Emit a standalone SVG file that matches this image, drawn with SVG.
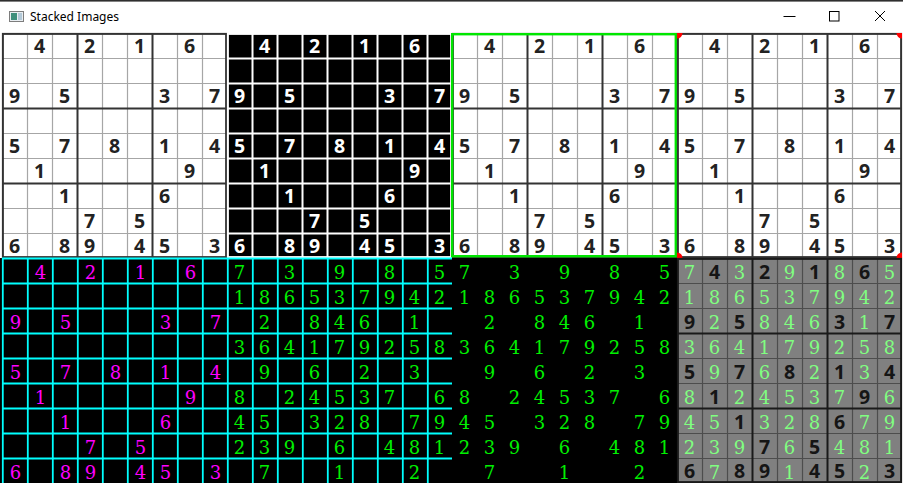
<svg xmlns="http://www.w3.org/2000/svg" width="903" height="483" viewBox="0 0 903 483">
<style>
.b{font-family:"Open Sans","Liberation Sans",sans-serif;font-weight:700;font-size:19.5px;text-anchor:middle}
.s{font-family:"DejaVu Serif","Liberation Serif",serif;font-size:18px;text-anchor:middle}
.k{fill:#222}.w{fill:#fff}.m{fill:#f0f}.g{fill:#00f000}.lg{fill:#80ff80}.d{fill:#151515}
.thin{fill:none;stroke:#a6a6a6;stroke-width:1.2}
.thick{fill:none;stroke:#333;stroke-width:2}
.wl{fill:none;stroke:#fff;stroke-width:2}
.cy{fill:none;stroke:#0ff;stroke-width:1.8}
.thin8{fill:none;stroke:#4d4d4d;stroke-width:1.2}
.thick8{fill:none;stroke:#1a1a1a;stroke-width:2}
.ttl{font-family:"Segoe UI","Noto Sans","Open Sans",sans-serif;font-size:12px;fill:#000}
</style>
<defs>
<path id="thinL" d="M25.5 0V225M50.5 0V225M100.5 0V225M125.5 0V225M175.5 0V225M200.5 0V225M0 25.5H225M0 50.5H225M0 100.5H225M0 125.5H225M0 175.5H225M0 200.5H225"/>
<path id="thickL" d="M75.5 0V225M150.5 0V225M0 75.5H225M0 150.5H225"/>
<path id="cyanL" d="M0.8 0V225M25.8 0V225M50.8 0V225M75.8 0V225M100.8 0V225M125.8 0V225M150.8 0V225M175.8 0V225M200.8 0V225M0 0.5H225M0 25.5H225M0 50.5H225M0 75.5H225M0 100.5H225M0 125.5H225M0 150.5H225M0 175.5H225M0 200.5H225"/>
<clipPath id="clip4"><rect x="0" y="0" width="225" height="225"/></clipPath>
</defs>
<rect width="903" height="483" fill="#fff"/>
<g id="titlebar">
<rect x="0" y="0" width="903" height="1.6" fill="#2f2f2f"/>
<rect x="9.5" y="11.5" width="14" height="10" fill="#e9eef2" stroke="#7d7d7d"/>
<rect x="11" y="13" width="6" height="7" fill="#3f8f7c"/>
<rect x="18" y="13" width="4" height="7" fill="#b3c9d8"/>
<text class="ttl" x="30" y="21">Stacked Images</text>
<path d="M783.5 16.5H795.5" stroke="#000" stroke-width="1" fill="none"/>
<rect x="829.5" y="11.5" width="9.5" height="9.5" stroke="#000" stroke-width="1" fill="none"/>
<path d="M875 11L885 21M885 11L875 21" stroke="#000" stroke-width="1" fill="none"/>
</g>

<g id="panel-original" transform="translate(2,33)">
<rect width="225" height="225" fill="#fff"/>
<use href="#thinL" class="thin"/>
<use href="#thickL" class="thick"/>
<rect x="0.9" y="0.9" width="223.2" height="223.2" class="thick"/>
<g class="b k">
<text x="37.5" y="20">4</text><text x="87.5" y="20">2</text><text x="137.5" y="20">1</text><text x="187.5" y="20">6</text>
<text x="12.5" y="70">9</text><text x="62.5" y="70">5</text><text x="162.5" y="70">3</text><text x="212.5" y="70">7</text>
<text x="12.5" y="120">5</text><text x="62.5" y="120">7</text><text x="112.5" y="120">8</text><text x="162.5" y="120">1</text><text x="212.5" y="120">4</text>
<text x="37.5" y="145">1</text><text x="187.5" y="145">9</text>
<text x="62.5" y="170">1</text><text x="162.5" y="170">6</text>
<text x="87.5" y="195">7</text><text x="137.5" y="195">5</text>
<text x="12.5" y="220">6</text><text x="62.5" y="220">8</text><text x="87.5" y="220">9</text><text x="137.5" y="220">4</text><text x="162.5" y="220">5</text><text x="212.5" y="220">3</text>
</g>
</g>

<g id="panel-threshold" transform="translate(227,33)">
<rect width="225" height="225" fill="#000"/>
<use href="#thinL" class="wl"/>
<use href="#thickL" class="wl"/>
<rect x="0.9" y="0.9" width="223.2" height="223.2" class="wl"/>
<g class="b w">
<text x="37.5" y="20">4</text><text x="87.5" y="20">2</text><text x="137.5" y="20">1</text><text x="187.5" y="20">6</text>
<text x="12.5" y="70">9</text><text x="62.5" y="70">5</text><text x="162.5" y="70">3</text><text x="212.5" y="70">7</text>
<text x="12.5" y="120">5</text><text x="62.5" y="120">7</text><text x="112.5" y="120">8</text><text x="162.5" y="120">1</text><text x="212.5" y="120">4</text>
<text x="37.5" y="145">1</text><text x="187.5" y="145">9</text>
<text x="62.5" y="170">1</text><text x="162.5" y="170">6</text>
<text x="87.5" y="195">7</text><text x="137.5" y="195">5</text>
<text x="12.5" y="220">6</text><text x="62.5" y="220">8</text><text x="87.5" y="220">9</text><text x="137.5" y="220">4</text><text x="162.5" y="220">5</text><text x="212.5" y="220">3</text>
</g>
</g>

<g id="panel-contour" transform="translate(452,33)">
<rect width="225" height="225" fill="#fff"/>
<use href="#thinL" class="thin"/>
<use href="#thickL" class="thick"/>
<rect x="0.9" y="0.9" width="223.2" height="223.2" class="thick"/>
<g class="b k">
<text x="37.5" y="20">4</text><text x="87.5" y="20">2</text><text x="137.5" y="20">1</text><text x="187.5" y="20">6</text>
<text x="12.5" y="70">9</text><text x="62.5" y="70">5</text><text x="162.5" y="70">3</text><text x="212.5" y="70">7</text>
<text x="12.5" y="120">5</text><text x="62.5" y="120">7</text><text x="112.5" y="120">8</text><text x="162.5" y="120">1</text><text x="212.5" y="120">4</text>
<text x="37.5" y="145">1</text><text x="187.5" y="145">9</text>
<text x="62.5" y="170">1</text><text x="162.5" y="170">6</text>
<text x="87.5" y="195">7</text><text x="137.5" y="195">5</text>
<text x="12.5" y="220">6</text><text x="62.5" y="220">8</text><text x="87.5" y="220">9</text><text x="137.5" y="220">4</text><text x="162.5" y="220">5</text><text x="212.5" y="220">3</text>
</g>
<rect x="0.2" y="1.2" width="223.6" height="222" fill="none" stroke="#00e600" stroke-width="2.4"/>
</g>

<g id="panel-warped" transform="translate(677,33)">
<rect width="225" height="225" fill="#fff"/>
<use href="#thinL" class="thin"/>
<use href="#thickL" class="thick"/>
<rect x="0.9" y="0.9" width="223.2" height="223.2" class="thick"/>
<g class="b k">
<text x="37.5" y="20">4</text><text x="87.5" y="20">2</text><text x="137.5" y="20">1</text><text x="187.5" y="20">6</text>
<text x="12.5" y="70">9</text><text x="62.5" y="70">5</text><text x="162.5" y="70">3</text><text x="212.5" y="70">7</text>
<text x="12.5" y="120">5</text><text x="62.5" y="120">7</text><text x="112.5" y="120">8</text><text x="162.5" y="120">1</text><text x="212.5" y="120">4</text>
<text x="37.5" y="145">1</text><text x="187.5" y="145">9</text>
<text x="62.5" y="170">1</text><text x="162.5" y="170">6</text>
<text x="87.5" y="195">7</text><text x="137.5" y="195">5</text>
<text x="12.5" y="220">6</text><text x="62.5" y="220">8</text><text x="87.5" y="220">9</text><text x="137.5" y="220">4</text><text x="162.5" y="220">5</text><text x="212.5" y="220">3</text>
</g>
<g clip-path="url(#clip4)" fill="#f00">
<circle cx="0" cy="0" r="5.5"/><circle cx="225" cy="0" r="5.5"/><circle cx="0" cy="225" r="5.5"/><circle cx="225" cy="225" r="5.5"/>
</g>
</g>

<g id="panel-detected" transform="translate(2,258)">
<rect x="-2" width="227" height="225" fill="#000"/>
<use href="#cyanL" class="cy"/>
<g class="s m">
<text x="38.5" y="21">4</text><text x="88.5" y="21">2</text><text x="138.5" y="21">1</text><text x="188.5" y="21">6</text>
<text x="13.5" y="71">9</text><text x="63.5" y="71">5</text><text x="163.5" y="71">3</text><text x="213.5" y="71">7</text>
<text x="13.5" y="121">5</text><text x="63.5" y="121">7</text><text x="113.5" y="121">8</text><text x="163.5" y="121">1</text><text x="213.5" y="121">4</text>
<text x="38.5" y="146">1</text><text x="188.5" y="146">9</text>
<text x="63.5" y="171">1</text><text x="163.5" y="171">6</text>
<text x="88.5" y="196">7</text><text x="138.5" y="196">5</text>
<text x="13.5" y="221">6</text><text x="63.5" y="221">8</text><text x="88.5" y="221">9</text><text x="138.5" y="221">4</text><text x="163.5" y="221">5</text><text x="213.5" y="221">3</text>
</g>
</g>

<g id="panel-solved-grid" transform="translate(227,258)">
<rect width="225" height="225" fill="#000"/>
<use href="#cyanL" class="cy"/>
<g class="s g">
<text x="12.5" y="21">7</text><text x="62.5" y="21">3</text><text x="112.5" y="21">9</text><text x="162.5" y="21">8</text><text x="212.5" y="21">5</text>
<text x="12.5" y="46">1</text><text x="37.5" y="46">8</text><text x="62.5" y="46">6</text><text x="87.5" y="46">5</text><text x="112.5" y="46">3</text><text x="137.5" y="46">7</text><text x="162.5" y="46">9</text><text x="187.5" y="46">4</text><text x="212.5" y="46">2</text>
<text x="37.5" y="71">2</text><text x="87.5" y="71">8</text><text x="112.5" y="71">4</text><text x="137.5" y="71">6</text><text x="187.5" y="71">1</text>
<text x="12.5" y="96">3</text><text x="37.5" y="96">6</text><text x="62.5" y="96">4</text><text x="87.5" y="96">1</text><text x="112.5" y="96">7</text><text x="137.5" y="96">9</text><text x="162.5" y="96">2</text><text x="187.5" y="96">5</text><text x="212.5" y="96">8</text>
<text x="37.5" y="121">9</text><text x="87.5" y="121">6</text><text x="137.5" y="121">2</text><text x="187.5" y="121">3</text>
<text x="12.5" y="146">8</text><text x="62.5" y="146">2</text><text x="87.5" y="146">4</text><text x="112.5" y="146">5</text><text x="137.5" y="146">3</text><text x="162.5" y="146">7</text><text x="212.5" y="146">6</text>
<text x="12.5" y="171">4</text><text x="37.5" y="171">5</text><text x="87.5" y="171">3</text><text x="112.5" y="171">2</text><text x="137.5" y="171">8</text><text x="187.5" y="171">7</text><text x="212.5" y="171">9</text>
<text x="12.5" y="196">2</text><text x="37.5" y="196">3</text><text x="62.5" y="196">9</text><text x="112.5" y="196">6</text><text x="162.5" y="196">4</text><text x="187.5" y="196">8</text><text x="212.5" y="196">1</text>
<text x="37.5" y="221">7</text><text x="112.5" y="221">1</text><text x="187.5" y="221">2</text>
</g>
</g>

<g id="panel-solution" transform="translate(452,258)">
<rect width="225" height="225" fill="#000"/>
<g class="s g">
<text x="12.5" y="21">7</text><text x="62.5" y="21">3</text><text x="112.5" y="21">9</text><text x="162.5" y="21">8</text><text x="212.5" y="21">5</text>
<text x="12.5" y="46">1</text><text x="37.5" y="46">8</text><text x="62.5" y="46">6</text><text x="87.5" y="46">5</text><text x="112.5" y="46">3</text><text x="137.5" y="46">7</text><text x="162.5" y="46">9</text><text x="187.5" y="46">4</text><text x="212.5" y="46">2</text>
<text x="37.5" y="71">2</text><text x="87.5" y="71">8</text><text x="112.5" y="71">4</text><text x="137.5" y="71">6</text><text x="187.5" y="71">1</text>
<text x="12.5" y="96">3</text><text x="37.5" y="96">6</text><text x="62.5" y="96">4</text><text x="87.5" y="96">1</text><text x="112.5" y="96">7</text><text x="137.5" y="96">9</text><text x="162.5" y="96">2</text><text x="187.5" y="96">5</text><text x="212.5" y="96">8</text>
<text x="37.5" y="121">9</text><text x="87.5" y="121">6</text><text x="137.5" y="121">2</text><text x="187.5" y="121">3</text>
<text x="12.5" y="146">8</text><text x="62.5" y="146">2</text><text x="87.5" y="146">4</text><text x="112.5" y="146">5</text><text x="137.5" y="146">3</text><text x="162.5" y="146">7</text><text x="212.5" y="146">6</text>
<text x="12.5" y="171">4</text><text x="37.5" y="171">5</text><text x="87.5" y="171">3</text><text x="112.5" y="171">2</text><text x="137.5" y="171">8</text><text x="187.5" y="171">7</text><text x="212.5" y="171">9</text>
<text x="12.5" y="196">2</text><text x="37.5" y="196">3</text><text x="62.5" y="196">9</text><text x="112.5" y="196">6</text><text x="162.5" y="196">4</text><text x="187.5" y="196">8</text><text x="212.5" y="196">1</text>
<text x="37.5" y="221">7</text><text x="112.5" y="221">1</text><text x="187.5" y="221">2</text>
</g>
</g>

<g id="panel-overlay" transform="translate(677,258)">
<rect width="225" height="225" fill="#808080"/>
<use href="#thinL" class="thin8"/>
<use href="#thickL" class="thick8"/>
<rect x="0.9" y="0.9" width="223.2" height="223.2" class="thick8"/>
<g class="b d">
<text x="37.5" y="20.5">4</text><text x="87.5" y="20.5">2</text><text x="137.5" y="20.5">1</text><text x="187.5" y="20.5">6</text>
<text x="12.5" y="70.5">9</text><text x="62.5" y="70.5">5</text><text x="162.5" y="70.5">3</text><text x="212.5" y="70.5">7</text>
<text x="12.5" y="120.5">5</text><text x="62.5" y="120.5">7</text><text x="112.5" y="120.5">8</text><text x="162.5" y="120.5">1</text><text x="212.5" y="120.5">4</text>
<text x="37.5" y="145.5">1</text><text x="187.5" y="145.5">9</text>
<text x="62.5" y="170.5">1</text><text x="162.5" y="170.5">6</text>
<text x="87.5" y="195.5">7</text><text x="137.5" y="195.5">5</text>
<text x="12.5" y="220">6</text><text x="62.5" y="220">8</text><text x="87.5" y="220">9</text><text x="137.5" y="220">4</text><text x="162.5" y="220">5</text><text x="212.5" y="220">3</text>
</g>
<g class="s lg">
<text x="12.5" y="21">7</text><text x="62.5" y="21">3</text><text x="112.5" y="21">9</text><text x="162.5" y="21">8</text><text x="212.5" y="21">5</text>
<text x="12.5" y="46">1</text><text x="37.5" y="46">8</text><text x="62.5" y="46">6</text><text x="87.5" y="46">5</text><text x="112.5" y="46">3</text><text x="137.5" y="46">7</text><text x="162.5" y="46">9</text><text x="187.5" y="46">4</text><text x="212.5" y="46">2</text>
<text x="37.5" y="71">2</text><text x="87.5" y="71">8</text><text x="112.5" y="71">4</text><text x="137.5" y="71">6</text><text x="187.5" y="71">1</text>
<text x="12.5" y="96">3</text><text x="37.5" y="96">6</text><text x="62.5" y="96">4</text><text x="87.5" y="96">1</text><text x="112.5" y="96">7</text><text x="137.5" y="96">9</text><text x="162.5" y="96">2</text><text x="187.5" y="96">5</text><text x="212.5" y="96">8</text>
<text x="37.5" y="121">9</text><text x="87.5" y="121">6</text><text x="137.5" y="121">2</text><text x="187.5" y="121">3</text>
<text x="12.5" y="146">8</text><text x="62.5" y="146">2</text><text x="87.5" y="146">4</text><text x="112.5" y="146">5</text><text x="137.5" y="146">3</text><text x="162.5" y="146">7</text><text x="212.5" y="146">6</text>
<text x="12.5" y="171">4</text><text x="37.5" y="171">5</text><text x="87.5" y="171">3</text><text x="112.5" y="171">2</text><text x="137.5" y="171">8</text><text x="187.5" y="171">7</text><text x="212.5" y="171">9</text>
<text x="12.5" y="196">2</text><text x="37.5" y="196">3</text><text x="62.5" y="196">9</text><text x="112.5" y="196">6</text><text x="162.5" y="196">4</text><text x="187.5" y="196">8</text><text x="212.5" y="196">1</text>
<text x="37.5" y="221">7</text><text x="112.5" y="221">1</text><text x="187.5" y="221">2</text>
</g>
</g>
<g id="connectors"/>
</svg>
